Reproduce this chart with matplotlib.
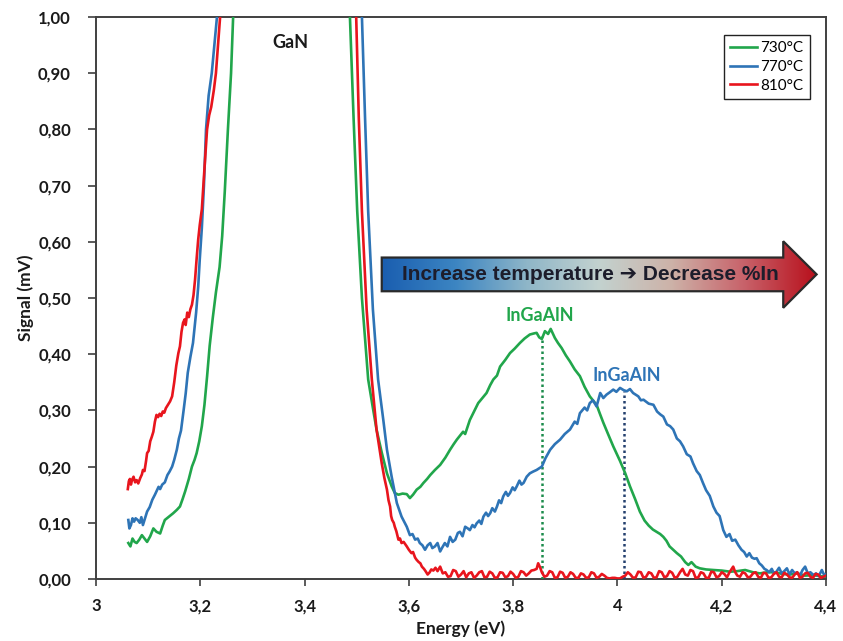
import numpy as np
import matplotlib
matplotlib.use("Agg")
import matplotlib.pyplot as plt
from matplotlib.colors import LinearSegmentedColormap
from matplotlib.patches import Polygon

# Photoluminescence-like spectra, (energy eV, signal mV).
# Each curve has a left and a right branch around the saturated GaN band edge.
GREEN_LEFT = [
    (3.062, 0.064), (3.066, 0.058), (3.070, 0.072), (3.074, 0.066), (3.078, 0.064),
    (3.083, 0.070), (3.088, 0.078), (3.093, 0.072), (3.098, 0.066), (3.104, 0.076),
    (3.110, 0.090), (3.116, 0.084), (3.123, 0.081), (3.128, 0.095), (3.132, 0.105),
    (3.140, 0.111), (3.148, 0.117), (3.155, 0.123), (3.161, 0.129), (3.166, 0.142),
    (3.171, 0.156), (3.178, 0.178), (3.184, 0.200), (3.189, 0.212), (3.193, 0.224),
    (3.198, 0.245), (3.203, 0.272), (3.208, 0.310), (3.213, 0.360), (3.218, 0.415),
    (3.224, 0.465), (3.230, 0.510), (3.237, 0.555), (3.242, 0.610), (3.247, 0.690),
    (3.253, 0.800), (3.259, 0.900), (3.263, 1.000), (3.266, 1.050),
]
GREEN_RIGHT = [
    (3.484, 1.050), (3.487, 1.000), (3.494, 0.820), (3.501, 0.654), (3.510, 0.500),
    (3.522, 0.355), (3.530, 0.310), (3.538, 0.266), (3.548, 0.225), (3.558, 0.188),
    (3.567, 0.165), (3.573, 0.153), (3.580, 0.150), (3.588, 0.152), (3.596, 0.151),
    (3.602, 0.144), (3.608, 0.150), (3.615, 0.159), (3.622, 0.164), (3.628, 0.171),
    (3.635, 0.178), (3.641, 0.185), (3.650, 0.194), (3.660, 0.203), (3.670, 0.216),
    (3.679, 0.230), (3.686, 0.240), (3.692, 0.248), (3.698, 0.255), (3.704, 0.262),
    (3.708, 0.258), (3.717, 0.283), (3.725, 0.298), (3.733, 0.313), (3.741, 0.322),
    (3.749, 0.331), (3.756, 0.345), (3.762, 0.355), (3.769, 0.362), (3.775, 0.378),
    (3.785, 0.390), (3.794, 0.402), (3.803, 0.410), (3.813, 0.420), (3.822, 0.428),
    (3.832, 0.435), (3.840, 0.437), (3.845, 0.438), (3.850, 0.430), (3.855, 0.427),
    (3.861, 0.441), (3.867, 0.436), (3.872, 0.445), (3.880, 0.429), (3.886, 0.420),
    (3.893, 0.411), (3.901, 0.398), (3.909, 0.387), (3.918, 0.373), (3.928, 0.361),
    (3.937, 0.342), (3.947, 0.325), (3.953, 0.318), (3.960, 0.310), (3.966, 0.295),
    (3.973, 0.278), (3.982, 0.258), (3.992, 0.236), (4.005, 0.210), (4.015, 0.188),
    (4.024, 0.165), (4.034, 0.142), (4.043, 0.120), (4.052, 0.104), (4.060, 0.095),
    (4.068, 0.088), (4.075, 0.084), (4.082, 0.080), (4.088, 0.075), (4.094, 0.068),
    (4.100, 0.058), (4.107, 0.052), (4.114, 0.046), (4.122, 0.040), (4.130, 0.030),
    (4.136, 0.025), (4.142, 0.030), (4.150, 0.022), (4.158, 0.019), (4.170, 0.017),
    (4.184, 0.016), (4.200, 0.015), (4.216, 0.013), (4.230, 0.014), (4.245, 0.016),
    (4.260, 0.012), (4.273, 0.010), (4.288, 0.012), (4.302, 0.012), (4.316, 0.009),
    (4.331, 0.008), (4.345, 0.010), (4.360, 0.006), (4.375, 0.007), (4.390, 0.005),
    (4.400, 0.004),
]

BLUE_LEFT = [
    (3.062, 0.105), (3.064, 0.090), (3.067, 0.096), (3.070, 0.108), (3.073, 0.102),
    (3.076, 0.108), (3.080, 0.105), (3.084, 0.100), (3.087, 0.110), (3.090, 0.096),
    (3.094, 0.108), (3.098, 0.120), (3.103, 0.128), (3.108, 0.141), (3.113, 0.150),
    (3.117, 0.158), (3.120, 0.164), (3.123, 0.160), (3.127, 0.168), (3.132, 0.172),
    (3.137, 0.185), (3.141, 0.191), (3.146, 0.200), (3.150, 0.212), (3.155, 0.230),
    (3.159, 0.250), (3.163, 0.264), (3.168, 0.300), (3.172, 0.330), (3.176, 0.367),
    (3.181, 0.395), (3.186, 0.420), (3.192, 0.474), (3.196, 0.520), (3.199, 0.569),
    (3.203, 0.625), (3.207, 0.700), (3.211, 0.800), (3.216, 0.860), (3.222, 0.900),
    (3.227, 0.950), (3.232, 1.000), (3.235, 1.050),
]
BLUE_RIGHT = [
    (3.508, 1.050), (3.510, 1.000), (3.516, 0.820), (3.522, 0.654), (3.531, 0.480),
    (3.541, 0.355), (3.551, 0.283), (3.558, 0.230), (3.567, 0.182), (3.577, 0.135),
    (3.586, 0.111), (3.596, 0.093), (3.602, 0.078), (3.607, 0.080), (3.612, 0.070),
    (3.617, 0.072), (3.621, 0.064), (3.626, 0.060), (3.631, 0.052), (3.636, 0.060),
    (3.641, 0.064), (3.645, 0.055), (3.650, 0.058), (3.655, 0.064), (3.660, 0.049),
    (3.664, 0.056), (3.669, 0.064), (3.674, 0.058), (3.679, 0.075), (3.684, 0.066),
    (3.689, 0.070), (3.694, 0.082), (3.698, 0.084), (3.703, 0.076), (3.708, 0.093),
    (3.713, 0.090), (3.717, 0.087), (3.722, 0.096), (3.726, 0.092), (3.730, 0.099),
    (3.735, 0.104), (3.739, 0.098), (3.743, 0.111), (3.748, 0.118), (3.752, 0.112),
    (3.756, 0.117), (3.760, 0.126), (3.765, 0.120), (3.769, 0.129), (3.773, 0.140),
    (3.777, 0.135), (3.781, 0.147), (3.786, 0.155), (3.790, 0.148), (3.794, 0.153),
    (3.799, 0.163), (3.803, 0.158), (3.807, 0.165), (3.812, 0.175), (3.816, 0.168),
    (3.820, 0.171), (3.826, 0.182), (3.832, 0.188), (3.838, 0.191), (3.845, 0.194),
    (3.850, 0.197), (3.855, 0.200), (3.862, 0.215), (3.871, 0.230), (3.880, 0.240),
    (3.890, 0.248), (3.899, 0.258), (3.909, 0.266), (3.918, 0.280), (3.923, 0.276),
    (3.928, 0.295), (3.937, 0.305), (3.942, 0.300), (3.947, 0.313), (3.953, 0.318),
    (3.960, 0.307), (3.967, 0.331), (3.973, 0.322), (3.979, 0.328), (3.985, 0.332),
    (3.992, 0.337), (3.998, 0.333), (4.005, 0.340), (4.012, 0.336), (4.018, 0.334),
    (4.024, 0.338), (4.030, 0.331), (4.040, 0.325), (4.045, 0.318), (4.050, 0.319),
    (4.060, 0.312), (4.069, 0.310), (4.076, 0.298), (4.082, 0.293), (4.088, 0.289),
    (4.095, 0.275), (4.101, 0.272), (4.107, 0.266), (4.114, 0.250), (4.120, 0.245),
    (4.126, 0.236), (4.133, 0.222), (4.140, 0.218), (4.145, 0.206), (4.152, 0.192),
    (4.158, 0.185), (4.164, 0.171), (4.170, 0.158), (4.177, 0.148), (4.184, 0.129),
    (4.190, 0.118), (4.196, 0.112), (4.203, 0.087), (4.209, 0.075), (4.215, 0.080),
    (4.220, 0.068), (4.226, 0.070), (4.232, 0.060), (4.238, 0.052), (4.243, 0.048),
    (4.248, 0.040), (4.253, 0.046), (4.258, 0.038), (4.263, 0.036), (4.267, 0.037),
    (4.272, 0.028), (4.277, 0.024), (4.282, 0.018), (4.286, 0.016), (4.291, 0.012),
    (4.296, 0.018), (4.300, 0.010), (4.305, 0.013), (4.310, 0.020), (4.315, 0.010),
    (4.320, 0.014), (4.325, 0.019), (4.330, 0.008), (4.335, 0.016), (4.340, 0.010),
    (4.344, 0.012), (4.350, 0.006), (4.355, 0.016), (4.360, 0.022), (4.365, 0.010),
    (4.370, 0.012), (4.376, 0.007), (4.381, 0.010), (4.386, 0.005), (4.392, 0.016),
    (4.396, 0.008), (4.400, 0.008),
]

RED_LEFT = [
    (3.061, 0.160), (3.063, 0.174), (3.065, 0.178), (3.067, 0.168), (3.069, 0.176),
    (3.072, 0.182), (3.075, 0.172), (3.078, 0.176), (3.081, 0.170), (3.085, 0.180),
    (3.088, 0.186), (3.090, 0.194), (3.093, 0.192), (3.096, 0.210), (3.098, 0.224),
    (3.101, 0.228), (3.104, 0.245), (3.107, 0.253), (3.110, 0.262), (3.113, 0.280),
    (3.116, 0.292), (3.119, 0.288), (3.122, 0.294), (3.125, 0.290), (3.128, 0.298),
    (3.131, 0.296), (3.134, 0.304), (3.138, 0.310), (3.142, 0.316), (3.146, 0.325),
    (3.150, 0.350), (3.154, 0.380), (3.158, 0.402), (3.161, 0.414), (3.164, 0.440),
    (3.167, 0.456), (3.170, 0.462), (3.172, 0.452), (3.175, 0.474), (3.178, 0.466),
    (3.181, 0.480), (3.184, 0.488), (3.187, 0.505), (3.190, 0.533), (3.193, 0.570),
    (3.196, 0.604), (3.199, 0.630), (3.203, 0.658), (3.208, 0.730), (3.213, 0.800),
    (3.217, 0.825), (3.221, 0.840), (3.226, 0.870), (3.230, 0.900), (3.234, 0.950),
    (3.238, 1.000), (3.240, 1.050),
]
RED_RIGHT = [
    (3.497, 1.050), (3.499, 1.000), (3.504, 0.820), (3.510, 0.654), (3.519, 0.480),
    (3.529, 0.355), (3.538, 0.266), (3.548, 0.206), (3.553, 0.180), (3.558, 0.159),
    (3.561, 0.140), (3.564, 0.129), (3.566, 0.112), (3.568, 0.105), (3.571, 0.100),
    (3.573, 0.093), (3.576, 0.085), (3.580, 0.070), (3.583, 0.072), (3.586, 0.064),
    (3.590, 0.066), (3.596, 0.058), (3.600, 0.052), (3.605, 0.046), (3.608, 0.048),
    (3.612, 0.038), (3.615, 0.034), (3.619, 0.030), (3.622, 0.028), (3.625, 0.022),
    (3.629, 0.018), (3.632, 0.014), (3.636, 0.008), (3.640, 0.012), (3.643, 0.017),
    (3.647, 0.015), (3.651, 0.020), (3.655, 0.014), (3.660, 0.022), (3.665, 0.010),
    (3.670, 0.012), (3.675, 0.004), (3.680, 0.005), (3.685, 0.016), (3.690, 0.014),
    (3.695, 0.004), (3.700, 0.008), (3.705, 0.014), (3.710, 0.003), (3.715, 0.010),
    (3.720, 0.012), (3.725, 0.002), (3.730, 0.006), (3.735, 0.012), (3.740, 0.014),
    (3.745, 0.003), (3.750, 0.004), (3.755, 0.013), (3.760, 0.010), (3.765, 0.002),
    (3.770, 0.003), (3.775, 0.012), (3.780, 0.011), (3.785, 0.003), (3.790, 0.005),
    (3.795, 0.013), (3.800, 0.009), (3.805, 0.002), (3.810, 0.004), (3.815, 0.014),
    (3.820, 0.012), (3.825, 0.006), (3.830, 0.010), (3.835, 0.015), (3.840, 0.016),
    (3.845, 0.018), (3.848, 0.028), (3.852, 0.020), (3.855, 0.012), (3.860, 0.004),
    (3.865, 0.006), (3.870, 0.014), (3.875, 0.012), (3.880, 0.002), (3.885, 0.003),
    (3.890, 0.013), (3.895, 0.011), (3.900, 0.002), (3.905, 0.004), (3.910, 0.012),
    (3.915, 0.009), (3.920, 0.002), (3.925, 0.002), (3.930, 0.010), (3.935, 0.008),
    (3.940, 0.002), (3.945, 0.003), (3.950, 0.012), (3.955, 0.010), (3.960, 0.002),
    (3.965, 0.004), (3.970, 0.009), (3.975, 0.006), (3.980, 0.002), (3.985, 0.001),
    (3.990, 0.002), (3.995, 0.002), (4.000, 0.001), (4.005, 0.001), (4.010, 0.004),
    (4.015, 0.006), (4.020, 0.012), (4.025, 0.008), (4.030, 0.002), (4.035, 0.003),
    (4.040, 0.013), (4.045, 0.012), (4.050, 0.002), (4.055, 0.004), (4.060, 0.012),
    (4.065, 0.010), (4.070, 0.002), (4.075, 0.003), (4.080, 0.014), (4.085, 0.012),
    (4.090, 0.003), (4.095, 0.005), (4.100, 0.014), (4.105, 0.011), (4.110, 0.002),
    (4.115, 0.004), (4.120, 0.012), (4.125, 0.018), (4.130, 0.008), (4.135, 0.006),
    (4.140, 0.016), (4.145, 0.014), (4.150, 0.002), (4.155, 0.003), (4.160, 0.012),
    (4.165, 0.010), (4.170, 0.002), (4.175, 0.002), (4.180, 0.013), (4.185, 0.012),
    (4.190, 0.003), (4.195, 0.005), (4.200, 0.012), (4.205, 0.009), (4.210, 0.003),
    (4.215, 0.012), (4.222, 0.022), (4.226, 0.012), (4.230, 0.006), (4.235, 0.004),
    (4.240, 0.012), (4.245, 0.010), (4.250, 0.003), (4.255, 0.004), (4.260, 0.010),
    (4.265, 0.012), (4.270, 0.004), (4.275, 0.002), (4.280, 0.011), (4.285, 0.010),
    (4.290, 0.002), (4.295, 0.003), (4.300, 0.009), (4.305, 0.012), (4.310, 0.004),
    (4.315, 0.003), (4.320, 0.011), (4.325, 0.008), (4.330, 0.003), (4.335, 0.002),
    (4.340, 0.008), (4.345, 0.012), (4.350, 0.002), (4.355, 0.004), (4.360, 0.010),
    (4.365, 0.011), (4.370, 0.004), (4.375, 0.002), (4.380, 0.009), (4.385, 0.008),
    (4.390, 0.002), (4.395, 0.004), (4.400, 0.006),
]

SERIES = ["730°C", "770°C", "810°C"]
COLORS = ["#21a64b", "#2e74b6", "#e8151d"]
CURVES = [(GREEN_LEFT, GREEN_RIGHT), (BLUE_LEFT, BLUE_RIGHT), (RED_LEFT, RED_RIGHT)]

# InGaAlN peak markers: (energy, height) for 730 and 770 °C
PEAK_E = [3.855, 4.013]
PEAK_H = [0.432, 0.334]
PEAK_LINE_COLORS = ["#1c8c4c", "#24406e"]

XTICKS = [3.0, 3.2, 3.4, 3.6, 3.8, 4.0, 4.2, 4.4]
XTICK_LABELS = ["3", "3,2", "3,4", "3,6", "3,8", "4", "4,2", "4,4"]
YTICKS = [0.0, 0.1, 0.2, 0.3, 0.4, 0.5, 0.6, 0.7, 0.8, 0.9, 1.0]
YTICK_LABELS = [f"{v:.2f}".replace(".", ",") for v in YTICKS]

FONT = ["Lato", "DejaVu Sans"]
TXT = "#1a1a1a"

fig = plt.figure(figsize=(8.43, 6.41), dpi=100)
ax = fig.add_axes([96 / 843, 1 - 579 / 641, 730 / 843, 562 / 641])

for (left, right), name, col in zip(CURVES, SERIES, COLORS):
    lx, ly = zip(*left)
    rx, ry = zip(*right)
    ax.plot(lx, ly, color=col, lw=1.9, label=name, zorder=4)
    ax.plot(rx, ry, color=col, lw=1.9, zorder=4)

for e, h, c in zip(PEAK_E, PEAK_H, PEAK_LINE_COLORS):
    ax.plot([e, e], [0, h], color=c, lw=1.8, ls=(0, (1, 1.2)), zorder=3)

# gradient arrow
x0, xh, xt = 3.548, 4.318, 4.382
yb, yt, hb, ht = 0.512, 0.572, 0.4825, 0.601
yc = (yb + yt) / 2
verts = [(x0, yb), (x0, yt), (xh, yt), (xh, ht), (xt, yc), (xh, hb), (xh, yb)]
cmap = LinearSegmentedColormap.from_list(
    "temp", ["#1a5eb0", "#3c85c2", "#8fb6c8", "#c3d2cf", "#cdb2a8", "#c8626a", "#b8101c"])
poly = Polygon(verts, closed=True, facecolor="none", edgecolor="#2a2a2a", lw=1.6, zorder=6)
ax.add_patch(poly)
grad = np.linspace(0, 1, 256).reshape(1, -1)
im = ax.imshow(grad, cmap=cmap, extent=[x0, xt, hb, ht], aspect="auto", zorder=5,
               interpolation="bilinear")
im.set_clip_path(poly)
ax.text((x0 + xh) / 2 + 0.015, yc, "Increase temperature \u2794 Decrease %In",
        ha="center", va="center", fontsize=15, fontweight="bold",
        family=["Liberation Sans", "DejaVu Sans"], color="#1d1d2b", zorder=7)

ax.text(3.372, 0.954, "GaN", ha="center", va="center", fontsize=13,
        fontweight="bold", family=FONT, color=TXT)
ax.text(3.852, 0.468, "InGaAlN", ha="center", va="center", fontsize=13,
        fontweight="bold", family=FONT, color=COLORS[0])
ax.text(4.018, 0.362, "InGaAlN", ha="center", va="center", fontsize=13,
        fontweight="bold", family=FONT, color=COLORS[1])

ax.set_xlim(3.0, 4.4)
ax.set_ylim(0.0, 1.0)
ax.set_xticks(XTICKS)
ax.set_xticklabels(XTICK_LABELS)
ax.set_yticks(YTICKS)
ax.set_yticklabels(YTICK_LABELS)
for lab in ax.get_xticklabels() + ax.get_yticklabels():
    lab.set_fontfamily(FONT)
    lab.set_fontweight("bold")
    lab.set_fontsize(12)
    lab.set_color(TXT)
ax.tick_params(axis="y", direction="out", length=6, width=1.2, pad=12, colors="#404040",
               labelcolor=TXT)
ax.tick_params(axis="x", direction="out", length=5, width=1.2, pad=9, colors="#404040",
               labelcolor=TXT)
for sp in ax.spines.values():
    sp.set_color("#404040")
    sp.set_linewidth(1.4)

ax.set_xlabel("Energy (eV)", fontsize=12.5, fontweight="bold", family=FONT, color=TXT,
              labelpad=4)
ax.set_ylabel("Signal (mV)", fontsize=12.5, fontweight="bold", family=FONT, color=TXT,
              labelpad=3)

leg = ax.legend(loc="upper right", bbox_to_anchor=(0.988, 0.981), frameon=True,
                fancybox=False, edgecolor="#222222", framealpha=1,
                prop={"family": FONT, "size": 11}, handlelength=1.8,
                handletextpad=0.2, borderpad=0.4, labelspacing=0.3)
leg.get_frame().set_linewidth(1.0)

fig.savefig("out.png", dpi=100)
